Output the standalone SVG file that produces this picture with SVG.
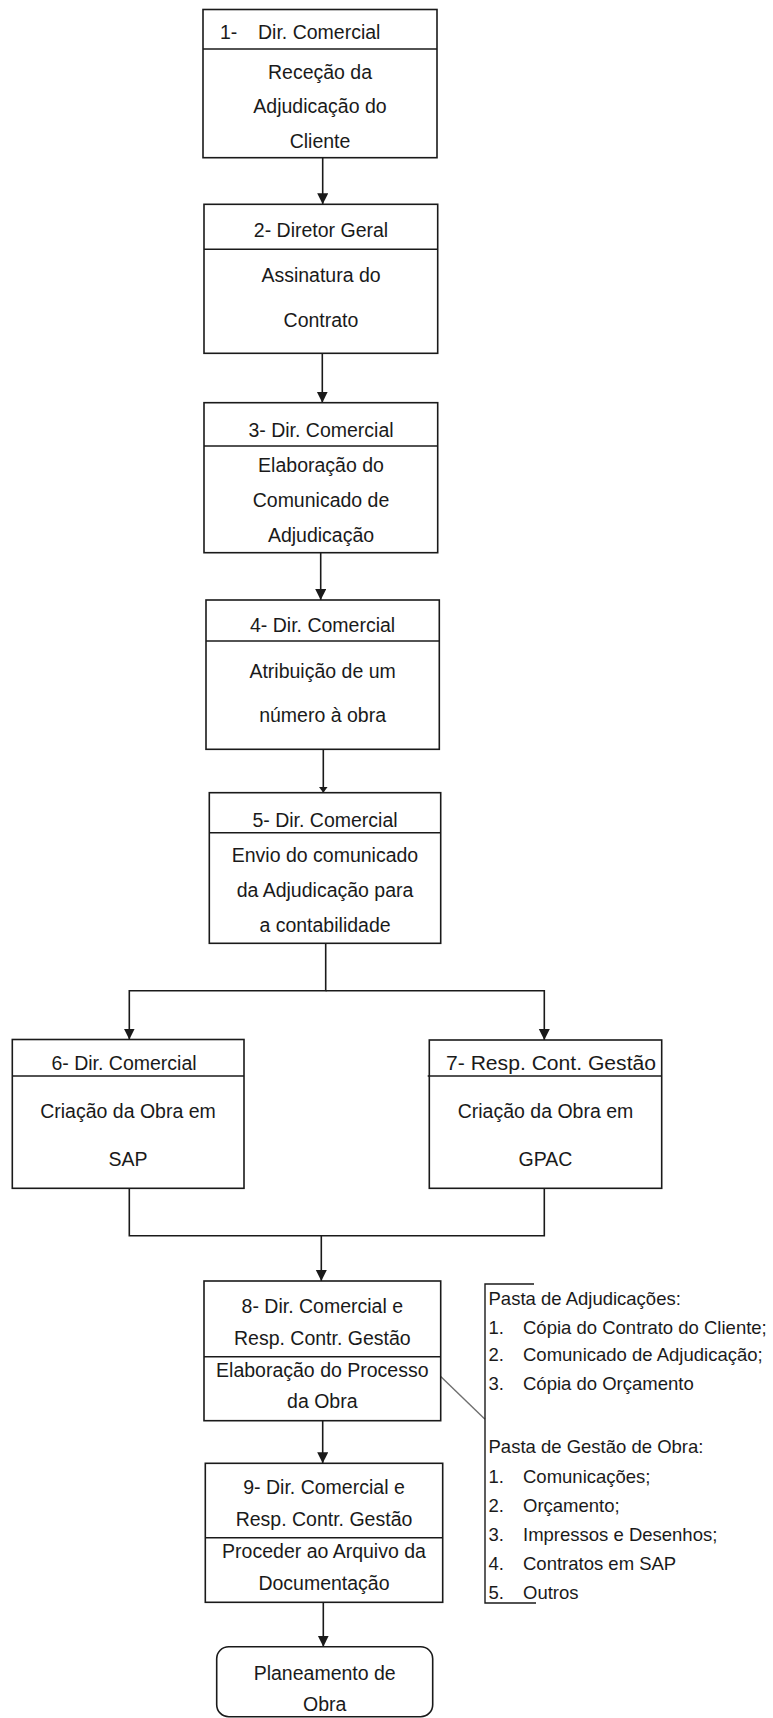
<svg xmlns="http://www.w3.org/2000/svg" width="773" height="1718" viewBox="0 0 773 1718">
<style>
.bx{fill:#fff;stroke:#1a1a1a;stroke-width:1.6}
.dv{stroke:#1a1a1a;stroke-width:1.6;fill:none}
.ln{stroke:#1a1a1a;stroke-width:1.6;fill:none}
.t{font-family:"Liberation Sans",Arial,sans-serif;font-size:19.5px;fill:#1a1a1a;text-anchor:middle}
.ts{font-family:"Liberation Sans",Arial,sans-serif;font-size:19.5px;fill:#1a1a1a}
.a{font-family:"Liberation Sans",Arial,sans-serif;font-size:18.5px;fill:#1a1a1a}
</style>
<defs>
<marker id="ar" markerUnits="userSpaceOnUse" markerWidth="12" markerHeight="12" refX="11" refY="5.5" orient="auto">
<path d="M0,0 L11,5.5 L0,11 z" fill="#1a1a1a"/>
</marker>
<marker id="ars" markerUnits="userSpaceOnUse" markerWidth="8" markerHeight="10" refX="6" refY="4.5" orient="auto">
<path d="M0,0 L6,4.5 L0,9 z" fill="#1a1a1a"/>
</marker>
</defs>
<rect width="773" height="1718" fill="#fff"/>

<g id="connectors">
<line class="ln" x1="322.7" y1="158" x2="322.7" y2="204.3" marker-end="url(#ar)"/>
<line class="ln" x1="322.3" y1="353.3" x2="322.3" y2="402.7" marker-end="url(#ar)"/>
<line class="ln" x1="320.7" y1="552.7" x2="320.7" y2="600" marker-end="url(#ar)"/>
<line class="ln" x1="323.3" y1="749.3" x2="323.3" y2="792.7" marker-end="url(#ars)"/>
<polyline class="ln" points="325.7,943.3 325.7,990.7 129.3,990.7 129.3,1039.5" marker-end="url(#ar)"/>
<polyline class="ln" points="325.7,990.7 544.3,990.7 544.3,1040" marker-end="url(#ar)"/>
<polyline class="ln" points="129.3,1188.3 129.3,1235.7 544.3,1235.7 544.3,1188.3"/>
<line class="ln" x1="321.3" y1="1235.7" x2="321.3" y2="1281" marker-end="url(#ar)"/>
<line class="ln" x1="322.7" y1="1420.7" x2="322.7" y2="1463.3" marker-end="url(#ar)"/>
<line class="ln" x1="323.3" y1="1602.3" x2="323.3" y2="1646.7" marker-end="url(#ar)"/>
<line x1="440.7" y1="1376.5" x2="485" y2="1419.3" stroke="#6f6f6f" stroke-width="1.4"/>
</g>

<g id="n1">
<rect class="bx" x="203" y="9.5" width="234" height="148.2"/>
<line class="dv" x1="203" y1="49" x2="437" y2="49"/>
<text class="ts" x="220" y="39">1-</text>
<text class="ts" x="258" y="39">Dir. Comercial</text>
<text class="t" x="320" y="79">Receção da</text>
<text class="t" x="320" y="113">Adjudicação do</text>
<text class="t" x="320" y="148">Cliente</text>
</g>

<g id="n2">
<rect class="bx" x="204" y="204.3" width="233.7" height="149"/>
<line class="dv" x1="204" y1="249.3" x2="437.7" y2="249.3"/>
<text class="t" x="321" y="237">2- Diretor Geral</text>
<text class="t" x="321" y="281.7">Assinatura do</text>
<text class="t" x="321" y="326.7">Contrato</text>
</g>

<g id="n3">
<rect class="bx" x="204" y="402.7" width="233.7" height="150"/>
<line class="dv" x1="204" y1="446" x2="437.7" y2="446"/>
<text class="t" x="321" y="437">3- Dir. Comercial</text>
<text class="t" x="321" y="471.7">Elaboração do</text>
<text class="t" x="321" y="506.7">Comunicado de</text>
<text class="t" x="321" y="541.7">Adjudicação</text>
</g>

<g id="n4">
<rect class="bx" x="206" y="600" width="233.3" height="149.3"/>
<line class="dv" x1="206" y1="641" x2="439.3" y2="641"/>
<text class="t" x="322.6" y="632">4- Dir. Comercial</text>
<text class="t" x="322.6" y="678">Atribuição de um</text>
<text class="t" x="322.6" y="722">número à obra</text>
</g>

<g id="n5">
<rect class="bx" x="209.3" y="792.7" width="231.4" height="150.6"/>
<line class="dv" x1="209.3" y1="832.7" x2="440.7" y2="832.7"/>
<text class="t" x="325" y="827">5- Dir. Comercial</text>
<text class="t" x="325" y="861.7">Envio do comunicado</text>
<text class="t" x="325" y="896.7">da Adjudicação para</text>
<text class="t" x="325" y="931.7">a contabilidade</text>
</g>

<g id="n6">
<rect class="bx" x="12.3" y="1039.5" width="231.7" height="148.8"/>
<line class="dv" x1="12.3" y1="1076" x2="244" y2="1076"/>
<text class="t" x="124" y="1070">6- Dir. Comercial</text>
<text class="t" x="128" y="1118">Criação da Obra em</text>
<text class="t" x="128" y="1166">SAP</text>
</g>

<g id="n7">
<rect class="bx" x="429.3" y="1040" width="232.4" height="148.3"/>
<line class="dv" x1="427.7" y1="1076" x2="661.7" y2="1076"/>
<text class="ts" x="446" y="1070" textLength="210" lengthAdjust="spacingAndGlyphs">7- Resp. Cont. Gestão</text>
<text class="t" x="545.5" y="1118">Criação da Obra em</text>
<text class="t" x="545.5" y="1166">GPAC</text>
</g>

<g id="n8">
<rect class="bx" x="204" y="1281" width="236.7" height="139.7"/>
<line class="dv" x1="204" y1="1356.7" x2="440.7" y2="1356.7"/>
<text class="t" x="322.3" y="1312.7">8- Dir. Comercial e</text>
<text class="t" x="322.3" y="1345">Resp. Contr. Gestão</text>
<text class="t" x="322.3" y="1377.3">Elaboração do Processo</text>
<text class="t" x="322.3" y="1408.3">da Obra</text>
</g>

<g id="n9">
<rect class="bx" x="205.3" y="1463.3" width="237.4" height="139"/>
<line class="dv" x1="205.3" y1="1537.7" x2="442.7" y2="1537.7"/>
<text class="t" x="324" y="1494">9- Dir. Comercial e</text>
<text class="t" x="324" y="1526">Resp. Contr. Gestão</text>
<text class="t" x="324" y="1558">Proceder ao Arquivo da</text>
<text class="t" x="324" y="1590">Documentação</text>
</g>

<g id="n10">
<rect class="bx" x="216.7" y="1646.7" width="216" height="70" rx="12" ry="12"/>
<text class="t" x="324.7" y="1680">Planeamento de</text>
<text class="t" x="324.7" y="1711">Obra</text>
</g>

<g id="note">
<polyline points="534,1284 485,1284 485,1603 536,1603" fill="none" stroke="#1a1a1a" stroke-width="1.4"/>
<text class="a" x="488.5" y="1305">Pasta de Adjudicações:</text>
<text class="a" x="488.5" y="1333.5">1.</text><text class="a" x="523" y="1333.5">Cópia do Contrato do Cliente;</text>
<text class="a" x="488.5" y="1361">2.</text><text class="a" x="523" y="1361">Comunicado de Adjudicação;</text>
<text class="a" x="488.5" y="1389.5">3.</text><text class="a" x="523" y="1389.5">Cópia do Orçamento</text>
<text class="a" x="488.5" y="1453">Pasta de Gestão de Obra:</text>
<text class="a" x="488.5" y="1483">1.</text><text class="a" x="523" y="1483">Comunicações;</text>
<text class="a" x="488.5" y="1512">2.</text><text class="a" x="523" y="1512">Orçamento;</text>
<text class="a" x="488.5" y="1540.5">3.</text><text class="a" x="523" y="1540.5">Impressos e Desenhos;</text>
<text class="a" x="488.5" y="1570">4.</text><text class="a" x="523" y="1570">Contratos em SAP</text>
<text class="a" x="488.5" y="1599">5.</text><text class="a" x="523" y="1599">Outros</text>
</g>
</svg>
